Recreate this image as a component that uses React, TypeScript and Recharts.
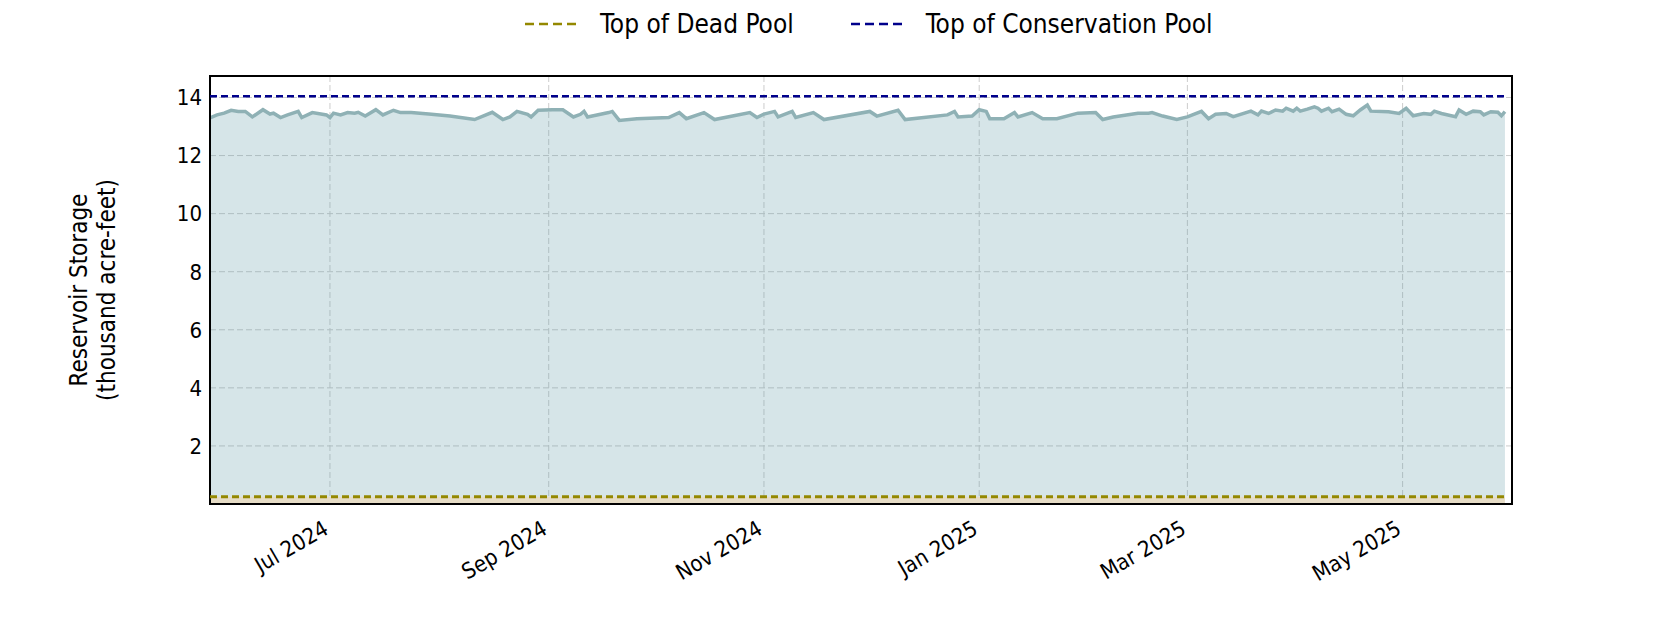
import React from 'react'
import {
  ComposedChart,
  Area,
  XAxis,
  YAxis,
  CartesianGrid,
  ReferenceLine,
  ReferenceArea,
} from 'recharts'

// daily-ish storage readings (thousand acre-feet)
const DATES = [
  '2024-05-28', '2024-05-30', '2024-06-01', '2024-06-03', '2024-06-05', '2024-06-07',
  '2024-06-09', '2024-06-12', '2024-06-14', '2024-06-15', '2024-06-17', '2024-06-19',
  '2024-06-22', '2024-06-23', '2024-06-26', '2024-06-30', '2024-07-01', '2024-07-02',
  '2024-07-04', '2024-07-06', '2024-07-08', '2024-07-09', '2024-07-11', '2024-07-14',
  '2024-07-16', '2024-07-19', '2024-07-21', '2024-07-24', '2024-07-29', '2024-08-04',
  '2024-08-11', '2024-08-16', '2024-08-19', '2024-08-21', '2024-08-23', '2024-08-26',
  '2024-08-27', '2024-08-29', '2024-09-02', '2024-09-05', '2024-09-08', '2024-09-10',
  '2024-09-11', '2024-09-12', '2024-09-18', '2024-09-19', '2024-09-21', '2024-09-26',
  '2024-10-05', '2024-10-08', '2024-10-10', '2024-10-15', '2024-10-18', '2024-10-28',
  '2024-10-30', '2024-11-01', '2024-11-04', '2024-11-05', '2024-11-09', '2024-11-10',
  '2024-11-15', '2024-11-18', '2024-12-01', '2024-12-03', '2024-12-09', '2024-12-11',
  '2024-12-23', '2024-12-25', '2024-12-26', '2024-12-30', '2025-01-01', '2025-01-03',
  '2025-01-04', '2025-01-08', '2025-01-11', '2025-01-12', '2025-01-16', '2025-01-19',
  '2025-01-23', '2025-01-29', '2025-02-03', '2025-02-05', '2025-02-08', '2025-02-15',
  '2025-02-18', '2025-02-19', '2025-02-22', '2025-02-26', '2025-03-01', '2025-03-05',
  '2025-03-07', '2025-03-09', '2025-03-12', '2025-03-14', '2025-03-19', '2025-03-21',
  '2025-03-22', '2025-03-24', '2025-03-26', '2025-03-28', '2025-03-29', '2025-03-31',
  '2025-04-01', '2025-04-02', '2025-04-04', '2025-04-06', '2025-04-07', '2025-04-08',
  '2025-04-10', '2025-04-11', '2025-04-13', '2025-04-15', '2025-04-17', '2025-04-19',
  '2025-04-21', '2025-04-22', '2025-04-27', '2025-04-30', '2025-05-02', '2025-05-04',
  '2025-05-07', '2025-05-09', '2025-05-10', '2025-05-12', '2025-05-16', '2025-05-17',
  '2025-05-19', '2025-05-21', '2025-05-23', '2025-05-24', '2025-05-26', '2025-05-28',
  '2025-05-29', '2025-05-30',
]

const STORAGE = [
  13.3, 13.4, 13.46, 13.56, 13.52, 13.52,
  13.33, 13.58, 13.43, 13.46, 13.31, 13.4,
  13.52, 13.31, 13.48, 13.4, 13.31, 13.46,
  13.4, 13.48, 13.46, 13.49, 13.36, 13.58,
  13.4, 13.56, 13.48, 13.48, 13.43, 13.36,
  13.24, 13.49, 13.24, 13.33, 13.52, 13.42,
  13.33, 13.56, 13.58, 13.58, 13.33, 13.42,
  13.52, 13.33, 13.48, 13.52, 13.21, 13.27,
  13.31, 13.48, 13.27, 13.48, 13.24, 13.48,
  13.31, 13.43, 13.52, 13.33, 13.52, 13.31,
  13.48, 13.24, 13.52, 13.36, 13.56, 13.24,
  13.4, 13.52, 13.33, 13.36, 13.58, 13.52,
  13.27, 13.27, 13.48, 13.33, 13.48, 13.27,
  13.27, 13.46, 13.48, 13.24, 13.33, 13.46,
  13.46, 13.48, 13.36, 13.24, 13.33, 13.52,
  13.27, 13.42, 13.45, 13.34, 13.53, 13.4,
  13.53, 13.45, 13.57, 13.53, 13.63, 13.53,
  13.63, 13.53, 13.6, 13.68, 13.63, 13.53,
  13.63, 13.51, 13.6, 13.42, 13.37, 13.57,
  13.74, 13.53, 13.51, 13.45, 13.63, 13.37,
  13.45, 13.42, 13.53, 13.45, 13.34, 13.57,
  13.42, 13.53, 13.51, 13.4, 13.51, 13.49,
  13.37, 13.51,
]

const DEAD_POOL = 0.25
const CONSERVATION_POOL = 14.04

const X_RANGE = ['2024-05-28', '2025-06-01']
const MONTH_TICKS = ['2024-07-01', '2024-09-01', '2024-11-01', '2025-01-01', '2025-03-01', '2025-05-01']
const MONTH_LABELS = ['Jul 2024', 'Sep 2024', 'Nov 2024', 'Jan 2025', 'Mar 2025', 'May 2025']
const Y_TICKS = [2, 4, 6, 8, 10, 12, 14]
const Y_MAX = 14.74

const FONT = "'Liberation Sans Narrow', 'DejaVu Sans Condensed', 'Liberation Sans', sans-serif"

const toTime = (d: string) => Date.parse(d + 'T00:00:00Z')

const data = DATES.map((d, i) => ({ t: toTime(d), storage: STORAGE[i] }))
const tickTimes = MONTH_TICKS.map(toTime)
const xMin = toTime(X_RANGE[0])
const xMax = toTime(X_RANGE[1])
const first = data[0].t
const last = data[data.length - 1].t

function XTick(props: any) {
  const { x, y, payload } = props
  const idx = tickTimes.indexOf(payload.value)
  const ax = x
  const ay = y + 29
  return (
    <text
      x={ax}
      y={ay}
      transform={`rotate(-30, ${ax}, ${ay})`}
      textAnchor="end"
      fill="#000"
      fontSize={22}
      fontFamily={FONT}
    >
      {MONTH_LABELS[idx]}
    </text>
  )
}

function YLabel(props: any) {
  const vb = props.viewBox || { x: 150, y: 76, width: 60, height: 428 }
  const cx = vb.x - 63
  const cy = vb.y + vb.height / 2
  return (
    <text
      x={cx}
      y={cy}
      transform={`rotate(-90, ${cx}, ${cy})`}
      textAnchor="middle"
      fill="#000"
      fontSize={24}
      fontFamily={FONT}
    >
      <tspan x={cx} dy={0}>Reservoir Storage</tspan>
      <tspan x={cx} dy={28}>(thousand acre-feet)</tspan>
    </text>
  )
}

function LegendItem({ color, label }: { color: string; label: string }) {
  return (
    <div style={{ display: 'flex', alignItems: 'center' }}>
      <svg width={54} height={6} style={{ marginRight: 21 }}>
        <line x1={0} y1={3} x2={54} y2={3} stroke={color} strokeWidth={2.5} strokeDasharray="9 5" />
      </svg>
      <span>{label}</span>
    </div>
  )
}

export default function App() {
  return (
    <div style={{ position: 'relative', width: 1680, height: 630, background: '#fff', fontFamily: FONT }}>
      <style>{'body{margin:0}'}</style>
      <div
        style={{
          position: 'absolute',
          top: 6,
          left: 525,
          display: 'flex',
          gap: 57,
          fontSize: 26,
          lineHeight: '36px',
          color: '#000',
        }}
      >
        <LegendItem color="#948800" label="Top of Dead Pool" />
        <LegendItem color="#00008b" label="Top of Conservation Pool" />
      </div>
      <ComposedChart
        width={1680}
        height={630}
        data={data}
        margin={{ top: 76, right: 168, bottom: 26, left: 150 }}
      >
        <CartesianGrid stroke="#cccccc" strokeDasharray="6 3" />
        <XAxis
          dataKey="t"
          type="number"
          scale="time"
          domain={[xMin, xMax]}
          ticks={tickTimes}
          tick={<XTick />}
          tickLine={false}
          axisLine={false}
          tickSize={0}
          tickMargin={0}
          height={100}
          allowDataOverflow
        />
        <YAxis
          type="number"
          domain={[0, Y_MAX]}
          ticks={Y_TICKS}
          width={60}
          tickLine={false}
          axisLine={false}
          tickSize={0}
          tickMargin={8}
          tick={{ fill: '#000', fontSize: 22, fontFamily: FONT }}
          label={{ content: YLabel }}
          allowDataOverflow
        />
        <ReferenceArea
          x1={first}
          x2={last}
          y1={0}
          y2={DEAD_POOL}
          fill="#e6dcc6"
          fillOpacity={1}
          stroke="none"
        />
        <Area
          type="linear"
          dataKey="storage"
          baseValue={DEAD_POOL}
          stroke="#8fb1b5"
          strokeWidth={3.5}
          fill="#5b97a3"
          fillOpacity={0.25}
          dot={false}
          activeDot={false}
          isAnimationActive={false}
        />
        <ReferenceLine
          segment={[{ x: first, y: DEAD_POOL }, { x: last, y: DEAD_POOL }]}
          stroke="#948800"
          strokeWidth={3}
          strokeDasharray="7 4"
        />
        <ReferenceLine
          segment={[{ x: xMin, y: CONSERVATION_POOL }, { x: last, y: CONSERVATION_POOL }]}
          stroke="#00008b"
          strokeWidth={2.5}
          strokeDasharray="7 4"
        />
        <ReferenceArea
          x1={xMin}
          x2={xMax}
          y1={0}
          y2={Y_MAX}
          fill="none"
          stroke="#000"
          strokeWidth={2}
        />
      </ComposedChart>
    </div>
  )
}
